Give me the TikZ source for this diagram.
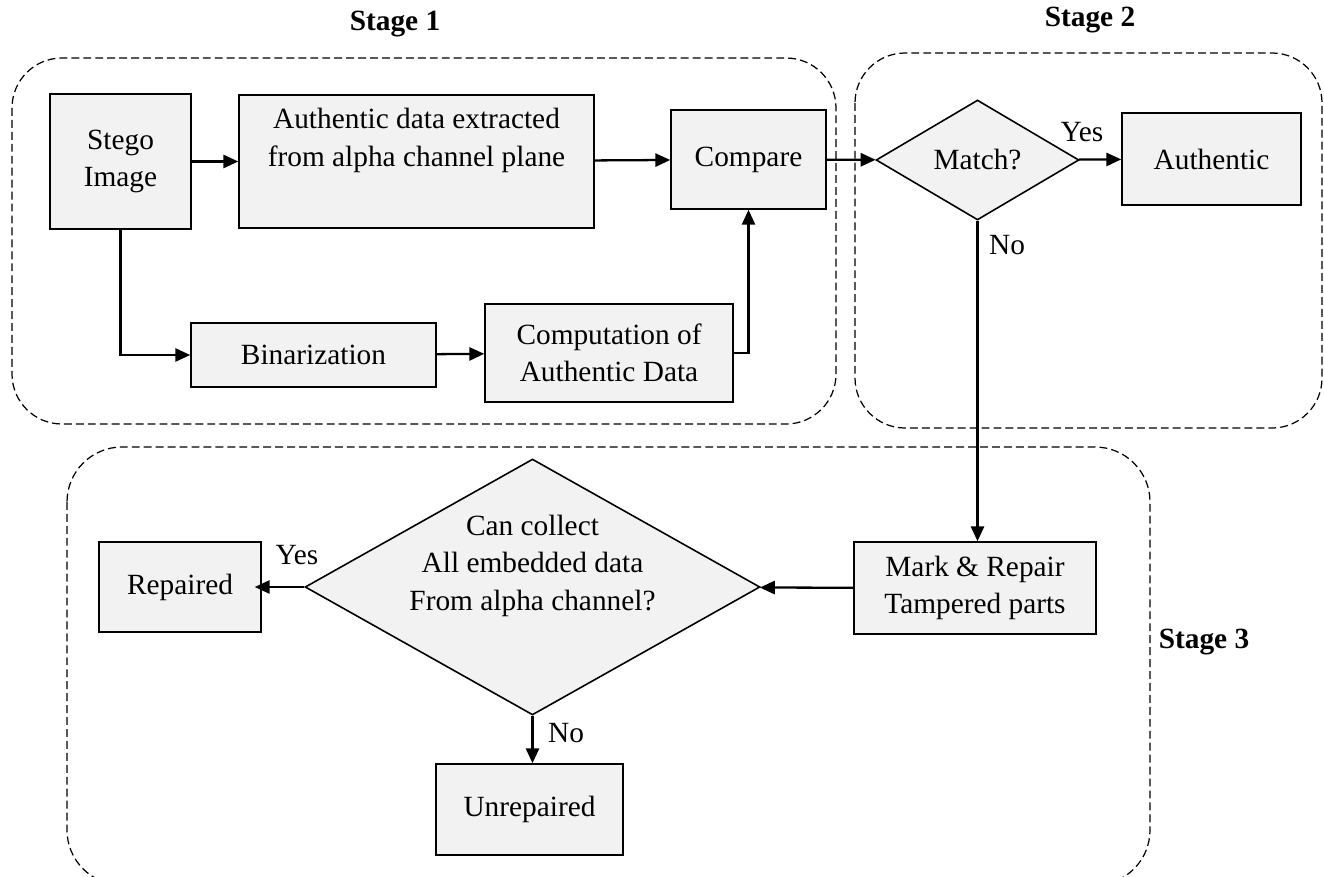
\documentclass[tikz,border=0pt]{standalone}
\usepackage{fontspec}
\setmainfont{Liberation Serif}
\usetikzlibrary{shapes.geometric,arrows.meta}

\tikzset{
  procbox/.style={draw, line width=0.9pt, fill=black!5, align=center, inner sep=2pt},
  decision/.style={draw, line width=0.9pt, fill=black!5, shape=diamond, align=center, inner sep=0pt},
  stageframe/.style={draw, line width=0.7pt, dash pattern=on 4.5pt off 2.3pt, rounded corners=1cm},
  flow/.style={line width=1.3pt, -{Triangle[length=8.5pt, width=7.5pt]}},
  stagelabel/.style={font=\fontsize{16.7}{21.3}\selectfont\bfseries}
}

\begin{document}
\begin{tikzpicture}[x=0.02cm, y=-0.02cm, font=\fontsize{16.7}{21.3}\selectfont]
    \useasboundingbox (0,0) rectangle (1324,876);

    % Stage frames
    \draw[stageframe] (12,58) rectangle (836,424);
    \draw[stageframe] (855,53) rectangle (1322,428);
    \draw[stageframe, rounded corners=1.1cm] (67,447) rectangle (1150,885);

    % Stage titles
    \node[stagelabel] (s1) at (395,24) {Stage 1};
    \node[stagelabel] (s2) at (1090,20) {Stage 2};
    \node[stagelabel] (s3) at (1204,642) {Stage 3};

    % Stage 1
    \node[procbox, minimum width=2.82cm, minimum height=2.7cm] (stego) at (120.5,161.5) {Stego\\Image};
    \node[procbox, minimum width=7.1cm, minimum height=2.66cm] (extract) at (416.5,161.5) {Authentic data extracted\\from alpha channel plane\\\strut};
    \node[procbox, minimum width=4.9cm, minimum height=1.28cm] (binar) at (313.5,355) {Binarization};
    \node[procbox, minimum width=4.96cm, minimum height=1.96cm] (comput) at (609,353) {Computation of\\Authentic Data};
    \node[procbox, minimum width=3.1cm, minimum height=1.98cm] (compare) at (748.5,159.5) {Compare};

    % Stage 2
    \node[decision, shape aspect=1.7, minimum width=4.06cm, minimum height=2.4cm] (match) at (977.5,160) {Match?};
    \node[procbox, minimum width=3.58cm, minimum height=1.84cm] (auth) at (1211.5,159) {Authentic};

    % Stage 3
    \node[procbox, minimum width=4.84cm, minimum height=1.84cm] (mark) at (975,588) {Mark \& Repair\\Tampered parts};
    \node[decision, shape aspect=1.78, inner sep=-12pt, minimum width=9.1cm, minimum height=5.12cm] (collect) at (532.5,587) {Can collect\\All embedded data\\From alpha channel?\\\strut};
    \node[procbox, minimum width=3.24cm, minimum height=1.8cm] (repaired) at (180,587) {Repaired};
    \node[procbox, minimum width=3.74cm, minimum height=1.82cm] (unrep) at (529.5,809.5) {Unrepaired};

    % Branch labels
    \node (yes1) at (1082,132) {Yes};
    \node (no1) at (1007,245) {No};
    \node (yes2) at (297,555) {Yes};
    \node (no2) at (566,733) {No};

    % Connectors
    \draw[flow] (stego) -- (extract);
    \draw[flow] (stego.south) |- (binar);
    \draw[flow] (binar) -- (comput);
    \draw[flow] (extract) -- (compare);
    \draw[flow] (comput.east) -| (compare.south);
    \draw[flow] (compare) -- (match);
    \draw[flow] (match) -- (auth);
    \draw[flow] (match.south) -- (match.south |- mark.north);
    \draw[flow] (mark) -- (collect);
    \draw[flow] (collect.west) -- ([xshift=-4] repaired.east);
    \draw[flow] (collect.south) -- (collect.south |- unrep.north);
\end{tikzpicture}
\end{document}
